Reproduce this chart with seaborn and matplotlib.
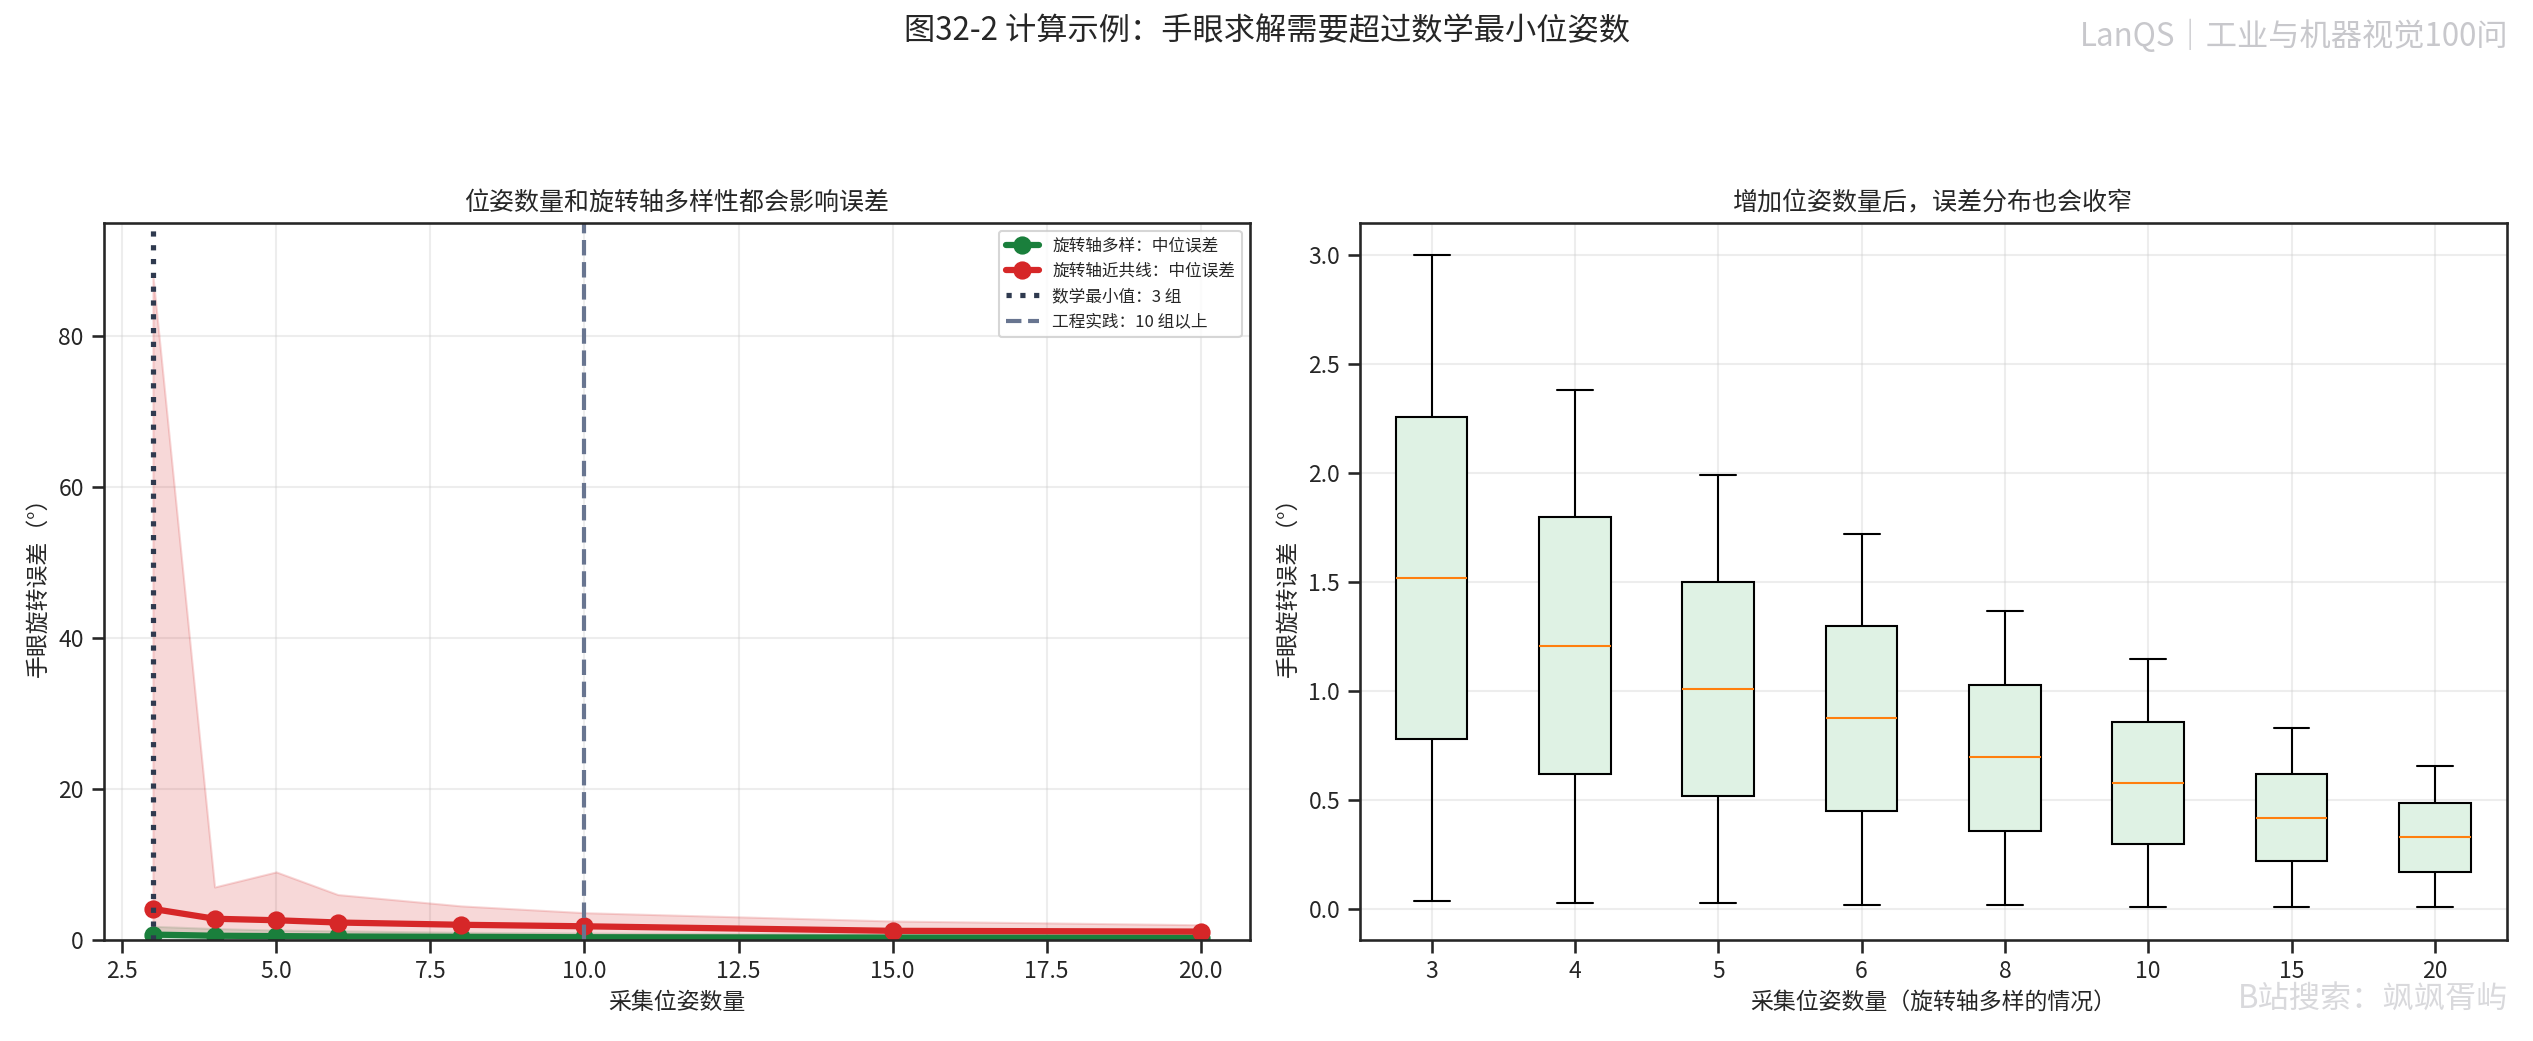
import numpy as np
import pandas as pd
import matplotlib
matplotlib.use("Agg")
import matplotlib.pyplot as plt
import seaborn as sns

sns.set_theme(style="ticks")
plt.rcParams['font.family'] = ['Noto Sans CJK SC', 'DejaVu Sans']
plt.rcParams['axes.unicode_minus'] = False

# 左图数据
poses = [3, 4, 5, 6, 8, 10, 15, 20]
good_median = [0.7, 0.55, 0.5, 0.45, 0.4, 0.35, 0.3, 0.28]
good_low = [0.1, 0.1, 0.1, 0.08, 0.08, 0.07, 0.06, 0.05]
good_high = [1.8, 1.5, 1.3, 1.2, 1.0, 0.9, 0.75, 0.7]
bad_median = [4.1, 2.8, 2.6, 2.3, 2.0, 1.8, 1.2, 1.1]
bad_low = [0.5, 0.5, 0.5, 0.45, 0.4, 0.4, 0.3, 0.3]
bad_high = [88, 7.0, 9.0, 6.0, 4.5, 3.6, 2.5, 2.0]

# 右图箱线图数据（最小、Q1、中位、Q3、最大）
box_labels = ["3", "4", "5", "6", "8", "10", "15", "20"]
box_min = [0.04, 0.03, 0.03, 0.02, 0.02, 0.01, 0.01, 0.01]
box_q1 = [0.78, 0.62, 0.52, 0.45, 0.36, 0.30, 0.22, 0.17]
box_med = [1.52, 1.21, 1.01, 0.88, 0.70, 0.58, 0.42, 0.33]
box_q3 = [2.26, 1.80, 1.50, 1.30, 1.03, 0.86, 0.62, 0.49]
box_max = [3.00, 2.38, 1.99, 1.72, 1.37, 1.15, 0.83, 0.66]

fig, (ax1, ax2) = plt.subplots(1, 2, figsize=(16.89, 6.94), dpi=150)

green = "#1a7f3c"
red = "#d62728"
ax1.fill_between(poses, good_low, good_high, color=green, alpha=0.15, lw=1)
ax1.fill_between(poses, bad_low, bad_high, color=red, alpha=0.18, lw=1)
sns.lineplot(x=poses, y=good_median, ax=ax1, color=green, lw=3, marker="o",
             markersize=8, markeredgecolor=green, label="旋转轴多样：中位误差")
sns.lineplot(x=poses, y=bad_median, ax=ax1, color=red, lw=3, marker="o",
             markersize=8, markeredgecolor=red, label="旋转轴近共线：中位误差")
ax1.axvline(3, color="#2f3a4f", ls=":", lw=2.5, label="数学最小值：3 组")
ax1.axvline(10, color="#687590", ls="--", lw=2, label="工程实践：10 组以上")
ax1.set_ylim(0, 95)
ax1.set_xlim(2.2, 20.8)
ax1.grid(True, alpha=0.35)
ax1.set_title("位姿数量和旋转轴多样性都会影响误差", fontsize=12)
ax1.set_xlabel("采集位姿数量", fontsize=11)
ax1.set_ylabel("手眼旋转误差（°）", fontsize=11)
ax1.legend(loc="upper right", fontsize=8)

rows = []
for lab, a, b, c, d, e in zip(box_labels, box_min, box_q1, box_med, box_q3, box_max):
    for v in (a, b, c, d, e):
        rows.append({"n": lab, "err": v})
df = pd.DataFrame(rows)
sns.boxplot(data=df, x="n", y="err", order=box_labels, ax=ax2, whis=10, width=0.5,
            color="#dff2e4", linecolor="black", linewidth=1, saturation=1,
            medianprops={"color": "#ff7f0e"})
ax2.grid(True, alpha=0.35)
ax2.set_title("增加位姿数量后，误差分布也会收窄", fontsize=12)
ax2.set_xlabel("采集位姿数量（旋转轴多样的情况）", fontsize=11)
ax2.set_ylabel("手眼旋转误差（°）", fontsize=11)

fig.suptitle("图32-2 计算示例：手眼求解需要超过数学最小位姿数", fontsize=15, y=0.985)
fig.text(0.99, 0.965, "LanQS｜工业与机器视觉100问", fontsize=15, color="#c8c8cc",
         ha="right", va="center")
fig.text(0.99, 0.04, "B站搜索：飒飒胥屿", fontsize=15, color="#d0d0d4",
         ha="right", va="center", alpha=0.8)
fig.tight_layout(rect=[0, 0, 1, 0.9])
fig.savefig("out.png", dpi=150)
